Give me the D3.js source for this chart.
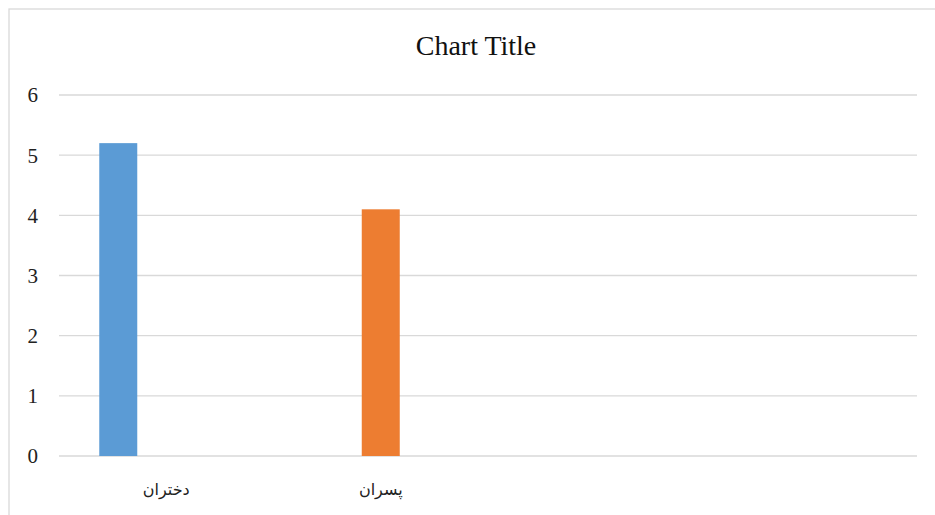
<!DOCTYPE html>
<html><head><meta charset="utf-8">
<script src="https://cdn.jsdelivr.net/npm/d3@7"></script>
<style>
html,body{margin:0;padding:0;background:#fff;overflow:hidden}
.serif{font-family:"Liberation Serif","Times New Roman","DejaVu Serif",serif}
.cat{font-family:"Liberation Serif","DejaVu Sans",serif}
</style>
</head><body>
<svg id="chart" width="935" height="515"></svg>
<script>
const title = "Chart Title";
const categories = ["دختران", "پسران", "", ""];
const seriesNames = ["s1", "s2", "s3"];
const series1 = [5.2, null, null, null];
const series2 = [null, 4.1, null, null];
const series3 = [null, null, null, null];
const seriesColors = ["#5B9BD5", "#ED7D31", "#A5A5A5"];
const yTicks = [0, 1, 2, 3, 4, 5, 6];

const svg = d3.select("#chart");
const m = {left: 59, right: 917, top: 95, bottom: 456};

// frame
svg.append("rect").attr("x", 9).attr("y", 9).attr("width", 1000).attr("height", 600)
  .attr("fill", "#fff").attr("stroke", "#d9d9d9").attr("stroke-width", 1.3);

const x0 = d3.scaleBand().domain(d3.range(categories.length)).range([m.left, m.right]).padding(0);
const x1 = d3.scaleBand().domain(seriesNames).range([0, x0.bandwidth()])
  .paddingInner(10 / 48).paddingOuter(0.839);
const y = d3.scaleLinear().domain([0, 6]).range([m.bottom, m.top]);

// gridlines
svg.append("g").selectAll("line").data(yTicks).join("line")
  .attr("x1", m.left).attr("x2", m.right)
  .attr("y1", d => y(d)).attr("y2", d => y(d))
  .attr("stroke", "#d9d9d9").attr("stroke-width", 1.3);

// y tick labels
svg.append("g").selectAll("text").data(yTicks).join("text")
  .attr("class", "serif")
  .attr("x", 38).attr("y", d => y(d)).attr("dy", "0.35em")
  .attr("text-anchor", "end")
  .attr("font-size", 21).attr("fill", "#222")
  .text(d => d);

// bars
const allSeries = [series1, series2, series3];
allSeries.forEach((vals, si) => {
  svg.append("g").selectAll("rect")
    .data(vals.map((v, i) => ({v, i})).filter(d => d.v != null))
    .join("rect")
    .attr("x", d => x0(d.i) + x1(seriesNames[si]))
    .attr("width", x1.bandwidth())
    .attr("y", d => y(d.v))
    .attr("height", d => y(0) - y(d.v))
    .attr("fill", seriesColors[si]);
});

// category labels
svg.append("g").selectAll("text").data(categories).join("text")
  .attr("class", "cat")
  .attr("x", (d, i) => x0(i) + x0.bandwidth() / 2)
  .attr("y", 495)
  .attr("text-anchor", "middle")
  .attr("font-size", 16).attr("fill", "#222")
  .text(d => d);

// title
svg.append("text").attr("class", "serif").attr("x", 476).attr("y", 55).attr("text-anchor", "middle")
  .attr("font-size", 28).attr("fill", "#111").text(title);
</script>
</body></html>
